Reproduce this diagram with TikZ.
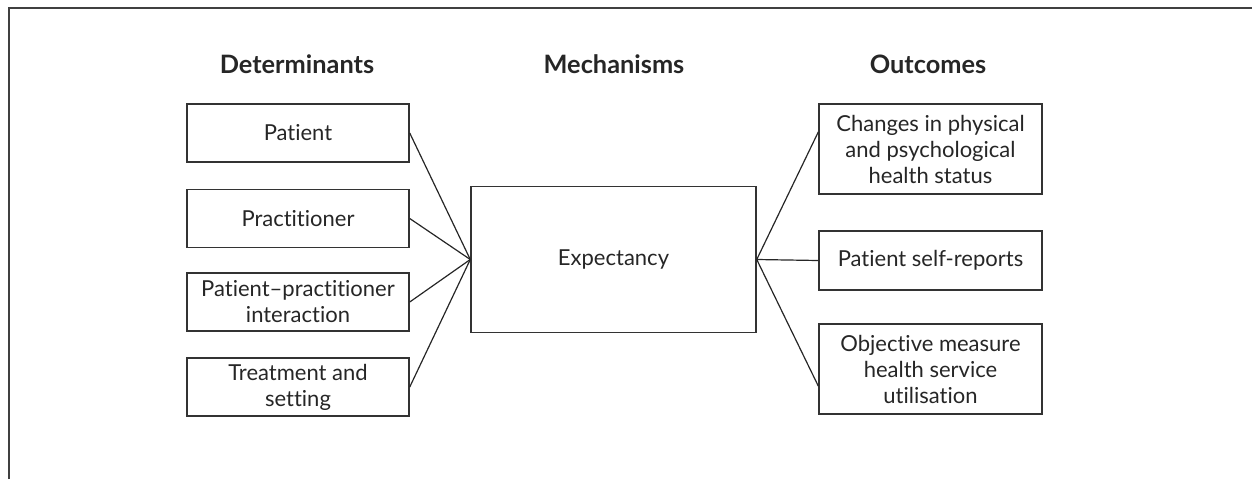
\documentclass[tikz,border=0pt]{standalone}
\usepackage{fontspec}
\setmainfont{Lato}[Ligatures={NoCommon}]
\begin{document}
\begin{tikzpicture}[x=0.75pt,y=-0.75pt,
  every node/.style={font=\fontsize{16.5}{19.5}\selectfont, text=black!85},
  box/.style={draw=black!80, line width=1.1pt, align=center, inner sep=2pt},
  lbox/.style={box, minimum width=166.5pt, minimum height=43.5pt},
  rbox/.style={box, minimum width=167.25pt},
  head/.style={font=\fontsize{19}{22}\selectfont\bfseries, anchor=base},
  conn/.style={draw=black!85, line width=0.9pt}]
\useasboundingbox (0,0) rectangle (1252,479);
\draw[black!75, line width=1.3pt] (9,479) -- (9,8) -- (1252,8);
% headers
\node[head] (hdet) at (297,73) {Determinants};
\node[head] (hmech) at (614,73) {Mechanisms};
\node[head] (hout) at (928,73) {Outcomes};
% left boxes
\node[lbox] (pat) at (298,133) {Patient};
\node[lbox] (pra) at (298,218.5) {Practitioner};
\node[lbox] (ppi) at (298,302) {Patient--practitioner\\interaction};
\node[lbox] (trt) at (298,387) {Treatment and\\setting};
% centre box
\node[box, minimum width=213.75pt, minimum height=109.5pt] (exp) at (613.5,259.5) {Expectancy};
% right boxes
\node[rbox, minimum height=67.5pt] (chg) at (930.5,149) {Changes in physical\\and psychological\\health status};
\node[rbox, minimum height=44.25pt] (self) at (930.5,260.5) {Patient self-reports};
\node[rbox, minimum height=67.5pt] (obj) at (930.5,369) {Objective measure\\health service\\utilisation};
% connectors
\foreach \n in {pat,pra,ppi,trt} \draw[conn] (\n.east) -- (exp.west);
\draw[conn] (exp.east) -- ([yshift=12.75pt]chg.west);
\draw[conn] (exp.east) -- (self.west);
\draw[conn] (exp.east) -- ([yshift=-12.75pt]obj.west);
\end{tikzpicture}
\end{document}
